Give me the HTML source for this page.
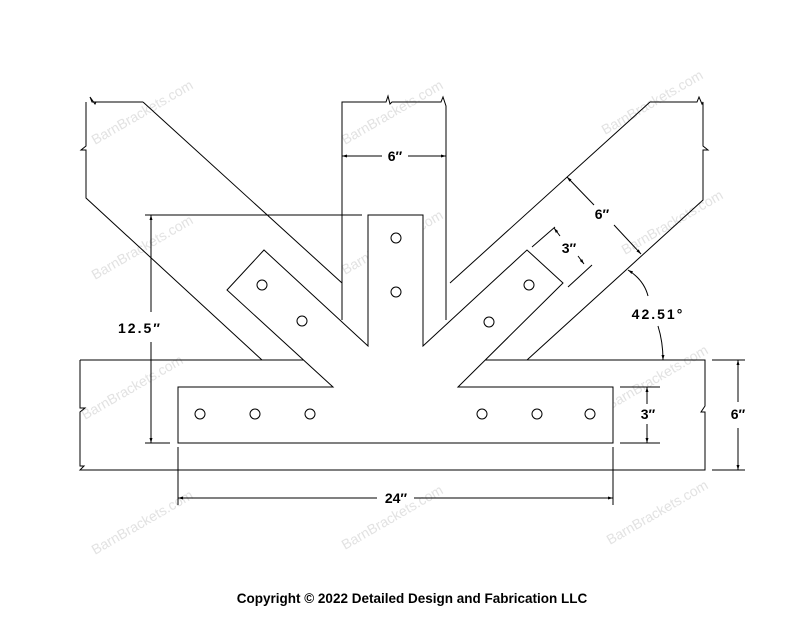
<!DOCTYPE html>
<html><head><meta charset="utf-8"><style>body{margin:0;background:#fff}svg{display:block}</style></head><body>
<svg width="800" height="618" viewBox="0 0 800 618" xmlns="http://www.w3.org/2000/svg">
<defs>
<marker id="a" viewBox="0 0 10 10" refX="10" refY="5" markerWidth="7" markerHeight="5" orient="auto-start-reverse"><path d="M0,2 L10,5 L0,8z" fill="#000"/></marker>
</defs>
<g font-family="Liberation Sans, sans-serif" font-size="14" fill="#e2e2e2">
<text transform="translate(95,145) rotate(-30)">BarnBrackets.com</text>
<text transform="translate(345,145) rotate(-30)">BarnBrackets.com</text>
<text transform="translate(605,135) rotate(-30)">BarnBrackets.com</text>
<text transform="translate(95,280) rotate(-30)">BarnBrackets.com</text>
<text transform="translate(345,275) rotate(-30)">BarnBrackets.com</text>
<text transform="translate(625,255) rotate(-30)">BarnBrackets.com</text>
<text transform="translate(85,420) rotate(-30)">BarnBrackets.com</text>
<text transform="translate(345,418) rotate(-30)">BarnBrackets.com</text>
<text transform="translate(610,410) rotate(-30)">BarnBrackets.com</text>
<text transform="translate(95,555) rotate(-30)">BarnBrackets.com</text>
<text transform="translate(345,550) rotate(-30)">BarnBrackets.com</text>
<text transform="translate(610,545) rotate(-30)">BarnBrackets.com</text>
</g>
<g fill="none" stroke="#000" stroke-width="1">
<polyline points="143,102 92,102 90,97 95,104 96,102"/>
<polyline points="86,102 86,146 81,150 86,150 86,198 262,360"/>
<line x1="143" y1="102" x2="342" y2="283"/>
<polyline points="342,320 342,102 386,102 388,96 390,104 392,102 441,102 443,97 446,106 446,320"/>
<line x1="450" y1="283" x2="650" y2="102"/>
<polyline points="650,102 697,102 699,97 702,104 703,102 703,146 708,150 703,150 703,200 527,360"/>
<polyline points="80,360 305,360"/>
<polyline points="485,360 705,360 705,406 701,412 705,412 705,470 80,470 84,466 80,466 80,412 85,408 80,408 80,360"/>
<polygon points="178,443 613,443 613,387 458,387 563,283 527,250 423,346 423,215 368,215 368,346 264,250 227,290 333,387 178,387" fill="#fff"/>
<circle cx="200" cy="414" r="5"/><circle cx="255" cy="414" r="5"/><circle cx="310" cy="414" r="5"/>
<circle cx="482" cy="414" r="5"/><circle cx="537" cy="414" r="5"/><circle cx="590" cy="414" r="5"/>
<circle cx="396" cy="238" r="5"/><circle cx="396" cy="292" r="5"/>
<circle cx="262" cy="285" r="5"/><circle cx="302" cy="321" r="5"/>
<circle cx="529" cy="285" r="5"/><circle cx="489" cy="322" r="5"/>
<line x1="342" y1="156" x2="382" y2="156" marker-start="url(#a)"/>
<line x1="408" y1="156" x2="446" y2="156" marker-end="url(#a)"/>
<line x1="145" y1="215" x2="362" y2="215"/>
<line x1="145" y1="443" x2="170" y2="443"/>
<line x1="151" y1="215" x2="151" y2="312" marker-start="url(#a)"/>
<line x1="151" y1="342" x2="151" y2="443" marker-end="url(#a)"/>
<line x1="178" y1="447" x2="178" y2="505"/>
<line x1="613" y1="447" x2="613" y2="505"/>
<line x1="178" y1="498" x2="377" y2="498" marker-start="url(#a)"/>
<line x1="414" y1="498" x2="613" y2="498" marker-end="url(#a)"/>
<line x1="620" y1="387" x2="660" y2="387"/>
<line x1="620" y1="443" x2="660" y2="443"/>
<line x1="647" y1="387" x2="647" y2="404" marker-start="url(#a)"/>
<line x1="647" y1="424" x2="647" y2="443" marker-end="url(#a)"/>
<line x1="712" y1="360" x2="745" y2="360"/>
<line x1="712" y1="470" x2="745" y2="470"/>
<line x1="738" y1="360" x2="738" y2="402" marker-start="url(#a)"/>
<line x1="738" y1="428" x2="738" y2="470" marker-end="url(#a)"/>
<line x1="567" y1="177" x2="594" y2="205" marker-start="url(#a)"/>
<line x1="614" y1="225" x2="641" y2="254" marker-end="url(#a)"/>
<line x1="532" y1="247" x2="555" y2="227"/>
<line x1="568" y1="287" x2="592" y2="265"/>
<line x1="554" y1="228" x2="560" y2="236" marker-start="url(#a)"/>
<line x1="584" y1="264" x2="578" y2="256" marker-start="url(#a)"/>
<path d="M628,270 Q644,280 648,296" marker-start="url(#a)"/>
<path d="M658,326 Q663,342 663,360" marker-end="url(#a)"/>
</g>
<g font-family="Liberation Sans, sans-serif" font-weight="bold" font-size="14" fill="#000" text-anchor="middle">
<text x="395" y="161">6″</text>
<text x="140" y="333" letter-spacing="2">12.5″</text>
<text x="396" y="503">24″</text>
<text x="648" y="419">3″</text>
<text x="738" y="419">6″</text>
<text x="602" y="219">6″</text>
<text x="569" y="253">3″</text>
<text x="658" y="319" letter-spacing="2">42.51°</text>
</g>
<text x="412" y="603" font-family="Liberation Sans, sans-serif" font-weight="bold" font-size="13.5" text-anchor="middle" fill="#000">Copyright © 2022 Detailed Design and Fabrication LLC</text>
</svg>
</body></html>
